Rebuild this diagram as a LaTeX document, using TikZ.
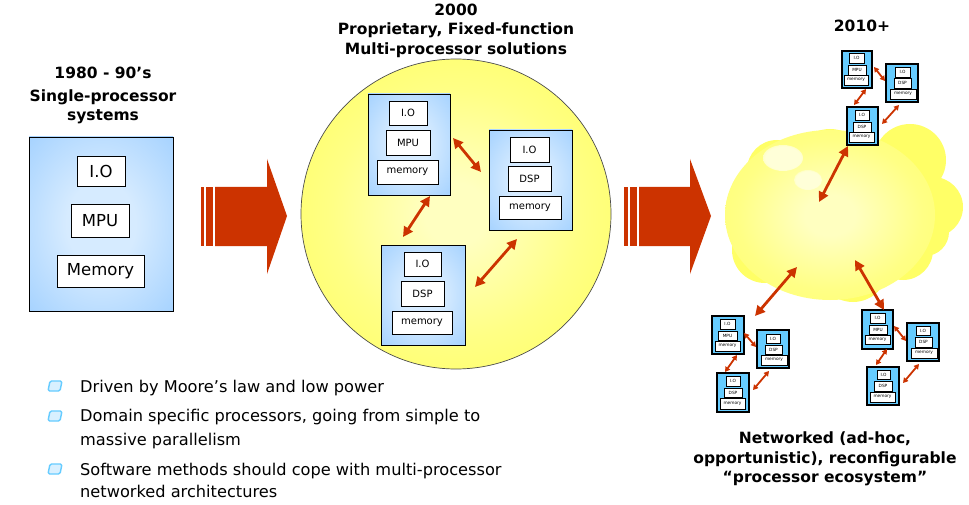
\documentclass[tikz,border=0pt]{standalone}
\usepackage{fontspec}
\setmainfont{DejaVu Sans}
\usetikzlibrary{arrows.meta}
\definecolor{redar}{HTML}{CC3300}
\definecolor{bluein}{HTML}{D6EBFF}
\definecolor{blueout}{HTML}{99CCFF}
\definecolor{cyanbox}{HTML}{66CCFF}
\definecolor{yelin}{HTML}{FFFFC0}
\definecolor{yelmid}{HTML}{FFFF85}
\definecolor{yelout}{HTML}{FFFF60}
\definecolor{cloudfill}{HTML}{FFFF66}
\definecolor{hlin}{HTML}{FFFFD8}
\definecolor{bulfill}{HTML}{D9F0FF}
\definecolor{buledge}{HTML}{66CCFF}
\pgfdeclareradialshading{bluesh}{\pgfpoint{0bp}{0bp}}{color(0bp)=(bluein); color(12bp)=(bluein); color(42bp)=(blueout); color(50bp)=(blueout)}
\pgfdeclareradialshading{yelsh}{\pgfpoint{0bp}{0bp}}{color(0bp)=(yelin); color(5bp)=(yelin); color(20bp)=(yelmid); color(34bp)=(yelout); color(50bp)=(yelout)}
\pgfdeclareradialshading{cloudsh}{\pgfpoint{0bp}{0bp}}{color(0bp)=(yelin); color(6bp)=(yelin); color(22bp)=(yelmid); color(38bp)=(cloudfill); color(50bp)=(cloudfill)}
\pgfdeclareradialshading{hlsh}{\pgfpoint{0bp}{0bp}}{color(0bp)=(hlin); color(22bp)=(hlin); color(42bp)=(cloudfill); color(50bp)=(cloudfill)}
\newcommand{\mybox}[7]{\node[#6, minimum width={(#4-#2)*1pt}, minimum height={(#5-#3)*1pt}] (#1) at ({(#2+#4)/2},{(#3+#5)/2}) {#7};}
\tikzset{
  bluebox/.style={draw=black, line width=0.8pt, shade, shading=bluesh, inner sep=0pt},
  wbox/.style={draw=black, line width=0.8pt, fill=white, inner sep=0pt},
  bigtxt/.style={font=\fontsize{16.5}{20}\selectfont},
  midtxt/.style={font=\fontsize{10}{12}\selectfont},
  sbox/.style={draw=black, line width=1.2pt, fill=cyanbox, inner sep=0pt},
  swbox/.style={draw=black, line width=0.9pt, fill=white, inner sep=0pt, font=\fontsize{4.3}{5}\selectfont},
  title/.style={font=\bfseries\fontsize{15.5}{19}\selectfont, anchor=base, inner sep=0pt},
  bullettxt/.style={font=\fontsize{16.2}{20}\selectfont, anchor=base west, inner sep=0pt},
  link/.style={redar, line width=2.8pt, {Triangle[length=10pt,width=10pt]}-{Triangle[length=10pt,width=10pt]}},
  slink/.style={redar, line width=1.8pt, {Triangle[length=5pt,width=5.5pt]}-{Triangle[length=5pt,width=5.5pt]}},
  bigarrow/.style={fill=redar, draw=none},
  bulletmark/.style={fill=bulfill, draw=buledge, line width=1.4pt, rounded corners=1.5pt}
}
\begin{document}
\begin{tikzpicture}[x=1pt, y=-1pt]
\useasboundingbox (0,0) rectangle (969,505);
\fill[white] (0,0) rectangle (969,505);

% ---------- left: single processor ----------
\node[title] (t1a) at (103,79) {1980 - 90’s};
\node[title] (t1b) at (103,102) {Single-processor};
\node[title] (t1c) at (103,121) {systems};
\mybox{L}{29}{137}{173}{311}{bluebox}{}
\mybox{Lio}{77}{156}{125}{186}{wbox,bigtxt}{I.O}
\mybox{Lmpu}{71}{204}{129}{237}{wbox,bigtxt}{MPU}
\mybox{Lmem}{57}{255}{144}{287}{wbox,bigtxt}{Memory}

% ---------- big arrow 1 ----------
\fill[bigarrow] (201,187) rectangle (204,246);
\fill[bigarrow] (206,187) rectangle (213,246);
\fill[bigarrow] (215,187) -- (267,187) -- (267,159) -- (287,216) -- (267,274) -- (267,246) -- (215,246) -- cycle;

% ---------- middle: circle ----------
\node[title] (t2a) at (456,16) {2000};
\node[title] (t2b) at (456,35) {Proprietary, Fixed-function};
\node[title] (t2c) at (456,55) {Multi-processor solutions};
\shade[shading=yelsh] (456,214) circle (155pt);
\draw[line width=0.7pt, black!70] (456,214) circle (155pt);

\mybox{A}{368}{94}{450}{195}{bluebox}{}
\mybox{Aio}{389}{101}{427}{125}{wbox,midtxt}{I.O}
\mybox{Ampu}{386}{130}{430}{155}{wbox,midtxt}{MPU}
\mybox{Amem}{377}{160}{438}{184}{wbox,midtxt}{memory}

\mybox{B}{489}{130}{572}{230}{bluebox}{}
\mybox{Bio}{510}{137}{549}{162}{wbox,midtxt}{I.O}
\mybox{Bdsp}{508}{166}{551}{191}{wbox,midtxt}{DSP}
\mybox{Bmem}{499}{196}{561}{219}{wbox,midtxt}{memory}

\mybox{C}{381}{245}{465}{345}{bluebox}{}
\mybox{Cio}{404}{252}{441}{276}{wbox,midtxt}{I.O}
\mybox{Cdsp}{401}{281}{444}{306}{wbox,midtxt}{DSP}
\mybox{Cmem}{392}{311}{452}{334}{wbox,midtxt}{memory}

\coordinate (ab1) at (453,138); \coordinate (ab2) at (481,172);
\coordinate (ac1) at (430,196); \coordinate (ac2) at (403,237);
\coordinate (bc1) at (517,239); \coordinate (bc2) at (475,287);
\draw[link] (ab1) -- (ab2);
\draw[link] (ac1) -- (ac2);
\draw[link] (bc1) -- (bc2);

% ---------- big arrow 2 ----------
\fill[bigarrow] (624,187) rectangle (628,246);
\fill[bigarrow] (630,187) rectangle (637,246);
\fill[bigarrow] (639,187) -- (690,187) -- (690,159) -- (711,216) -- (690,274) -- (690,246) -- (639,246) -- cycle;

% ---------- right: cloud ----------
\node[title] (t3) at (862,32) {2010+};
\fill[cloudfill] (777,170) circle (30pt) (830,165) circle (36pt) (910,160) circle (36pt)
      (933,207) circle (30pt) (755,207) circle (29pt) (765,250) circle (33pt)
      (805,262) circle (30pt) (853,267) circle (35pt) (903,250) circle (30pt)
      (925,232) circle (24pt) (845,215) circle (62pt);
\shade[shading=cloudsh] (830,215) ellipse (105pt and 85pt);
\shade[shading=hlsh] (783,158) ellipse (20pt and 13pt);
\shade[shading=hlsh] (808,180) ellipse (14pt and 10pt);

% top cluster
\mybox{T1}{842}{51}{872}{88}{sbox}{}
\mybox{T1io}{849}{53}{864}{63}{swbox}{I.O}
\mybox{T1mpu}{848}{65}{866}{75}{swbox}{MPU}
\mybox{T1mem}{844}{75}{868}{85}{swbox}{memory}
\mybox{T2}{886}{64}{918}{102}{sbox}{}
\mybox{T2io}{895}{67}{910}{77}{swbox}{I.O}
\mybox{T2dsp}{894}{78}{911}{88}{swbox}{DSP}
\mybox{T2mem}{890}{89}{916}{99}{swbox}{memory}
\mybox{T3}{847}{107}{878}{145}{sbox}{}
\mybox{T3io}{855}{110}{869}{120}{swbox}{I.O}
\mybox{T3dsp}{853}{122}{871}{132}{swbox}{DSP}
\mybox{T3mem}{849}{132}{874}{142}{swbox}{memory}
\coordinate (t12a) at (874,67); \coordinate (t12b) at (885,81);
\coordinate (t13a) at (866,89); \coordinate (t13b) at (854,105);
\coordinate (t23a) at (899,105); \coordinate (t23b) at (882,124);
\draw[slink] (t12a) -- (t12b);
\draw[slink] (t13a) -- (t13b);
\draw[slink] (t23a) -- (t23b);

% bottom-left cluster
\mybox{L1}{712}{316}{744}{354}{sbox}{}
\mybox{L1io}{720}{319}{735}{329}{swbox}{I.O}
\mybox{L1mpu}{718}{331}{737}{340}{swbox}{MPU}
\mybox{L1mem}{715}{341}{740}{351}{swbox}{memory}
\mybox{L2}{757}{330}{789}{368}{sbox}{}
\mybox{L2io}{766}{334}{780}{343}{swbox}{I.O}
\mybox{L2dsp}{765}{345}{782}{354}{swbox}{DSP}
\mybox{L2mem}{761}{355}{787}{365}{swbox}{memory}
\mybox{L3}{717}{373}{749}{412}{sbox}{}
\mybox{L3io}{726}{376}{740}{386}{swbox}{I.O}
\mybox{L3dsp}{724}{388}{742}{397}{swbox}{DSP}
\mybox{L3mem}{720}{398}{745}{409}{swbox}{memory}
\coordinate (l12a) at (744,333); \coordinate (l12b) at (756,347);
\coordinate (l13a) at (737,355); \coordinate (l13b) at (725,372);
\coordinate (l23a) at (769,371); \coordinate (l23b) at (753,390);
\draw[slink] (l12a) -- (l12b);
\draw[slink] (l13a) -- (l13b);
\draw[slink] (l23a) -- (l23b);

% bottom-right cluster
\mybox{R1}{862}{310}{893}{349}{sbox}{}
\mybox{R1io}{870}{313}{885}{323}{swbox}{I.O}
\mybox{R1mpu}{869}{325}{887}{334}{swbox}{MPU}
\mybox{R1mem}{865}{335}{890}{344}{swbox}{memory}
\mybox{R2}{907}{323}{939}{361}{sbox}{}
\mybox{R2io}{916}{326}{930}{335}{swbox}{I.O}
\mybox{R2dsp}{915}{337}{932}{347}{swbox}{DSP}
\mybox{R2mem}{911}{348}{937}{358}{swbox}{memory}
\mybox{R3}{867}{367}{899}{405}{sbox}{}
\mybox{R3io}{877}{370}{890}{379}{swbox}{I.O}
\mybox{R3dsp}{874}{381}{892}{391}{swbox}{DSP}
\mybox{R3mem}{870}{392}{895}{402}{swbox}{memory}
\coordinate (r12a) at (894,326); \coordinate (r12b) at (906,341);
\coordinate (r13a) at (887,349); \coordinate (r13b) at (876,365);
\coordinate (r23a) at (919,364); \coordinate (r23b) at (903,383);
\draw[slink] (r12a) -- (r12b);
\draw[slink] (r13a) -- (r13b);
\draw[slink] (r23a) -- (r23b);

% cloud links
\coordinate (ct1) at (848,146); \coordinate (ct2) at (819,202);
\coordinate (cl1) at (797,267); \coordinate (cl2) at (755,316);
\coordinate (cr1) at (855,260); \coordinate (cr2) at (884,310);
\draw[link] (ct1) -- (ct2);
\draw[link] (cl1) -- (cl2);
\draw[link] (cr1) -- (cr2);

% caption right
\node[title] (n1) at (825,443) {Networked (ad-hoc,};
\node[title] (n2) at (825,463) {opportunistic), reconfigurable};
\node[title] (n3) at (825,482) {“processor ecosystem”};

% ---------- bullets ----------
\draw[bulletmark] (50,381) -- (62,381) -- (60,391) -- (48,391) -- cycle;
\draw[bulletmark] (50,411) -- (62,411) -- (60,421) -- (48,421) -- cycle;
\draw[bulletmark] (50,464) -- (62,464) -- (60,474) -- (48,474) -- cycle;
\node[bullettxt] (b1) at (80,392) {Driven by Moore’s law and low power};
\node[bullettxt] (b2) at (80,421) {Domain specific processors, going from simple to};
\node[bullettxt] (b2b) at (80,445) {massive parallelism};
\node[bullettxt] (b3) at (80,475) {Software methods should cope with multi-processor};
\node[bullettxt] (b3b) at (80,497) {networked architectures};
\end{tikzpicture}
\end{document}
